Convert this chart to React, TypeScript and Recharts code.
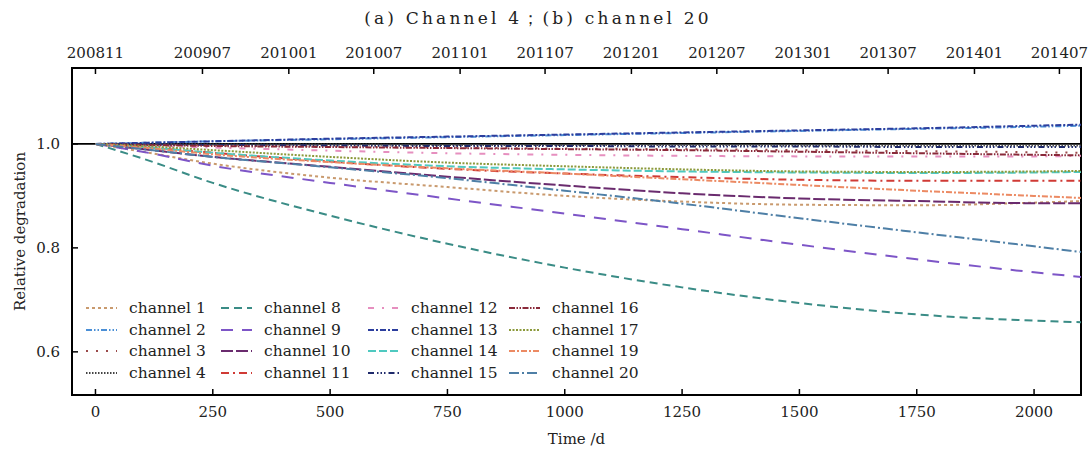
import React from "react";
import { LineChart, Line, XAxis, YAxis, ReferenceLine, ReferenceArea } from "recharts";

// sample days (x) shared by every channel
const days = [0, 100, 250, 500, 750, 1000, 1250, 1500, 1750, 2000, 2100];

const ch1 = [1, 0.985, 0.962, 0.935, 0.917, 0.9, 0.889, 0.883, 0.882, 0.887, 0.89];
const ch2 = [1, 1.002, 1.005, 1.009, 1.013, 1.017, 1.021, 1.025, 1.029, 1.033, 1.035];
const ch3 = [1, 0.999, 0.997, 0.995, 0.993, 0.991, 0.99, 0.988, 0.986, 0.984, 0.983];
const ch4 = [1, 1, 0.999, 0.999, 0.998, 0.998, 0.998, 0.997, 0.997, 0.997, 0.997];
const ch8 = [1, 0.972, 0.925, 0.862, 0.808, 0.762, 0.724, 0.694, 0.672, 0.66, 0.657];
const ch9 = [1, 0.985, 0.958, 0.925, 0.895, 0.866, 0.836, 0.806, 0.778, 0.753, 0.744];
const ch10 = [1, 0.99, 0.975, 0.956, 0.937, 0.92, 0.905, 0.895, 0.89, 0.886, 0.886];
const ch11 = [1, 0.994, 0.983, 0.966, 0.952, 0.943, 0.936, 0.931, 0.929, 0.929, 0.929];
const ch12 = [1, 0.997, 0.993, 0.987, 0.982, 0.979, 0.977, 0.976, 0.976, 0.976, 0.977];
const ch13 = [1, 1.002, 1.005, 1.01, 1.014, 1.018, 1.022, 1.026, 1.03, 1.035, 1.037];
const ch14 = [1, 0.994, 0.983, 0.968, 0.957, 0.951, 0.947, 0.945, 0.944, 0.945, 0.946];
const ch15 = [1, 0.999, 0.998, 0.997, 0.996, 0.996, 0.995, 0.995, 0.994, 0.994, 0.994];
const ch16 = [1, 0.998, 0.996, 0.994, 0.992, 0.99, 0.988, 0.985, 0.982, 0.979, 0.978];
const ch17 = [1, 0.996, 0.988, 0.975, 0.964, 0.957, 0.951, 0.947, 0.946, 0.947, 0.948];
const ch19 = [1, 0.993, 0.98, 0.965, 0.953, 0.943, 0.932, 0.921, 0.91, 0.9, 0.896];
const ch20 = [1, 0.99, 0.975, 0.955, 0.934, 0.91, 0.885, 0.857, 0.83, 0.803, 0.792];

const bottomTicks = [0, 250, 500, 750, 1000, 1250, 1500, 1750, 2000];
const topTicks = [0, 228, 412, 593, 777, 958, 1142, 1324, 1508, 1689, 1873, 2054];
const topLabels = [
  "200811", "200907", "201001", "201007", "201101", "201107",
  "201201", "201207", "201301", "201307", "201401", "201407",
];
const yTicks = [0.6, 0.8, 1.0];

const X_MIN = -50;
const X_MAX = 2100;
const Y_MIN = 0.517;
const Y_MAX = 1.146;

const series = [
  { key: "ch1", name: "channel 1", values: ch1, color: "#c99a6e", dash: "3 3" },
  { key: "ch2", name: "channel 2", values: ch2, color: "#4b8fd6", dash: "6 2 1.5 2 1.5 2" },
  { key: "ch3", name: "channel 3", values: ch3, color: "#9b4a4a", dash: "2 8" },
  { key: "ch4", name: "channel 4", values: ch4, color: "#444444", dash: "1.5 1.5" },
  { key: "ch8", name: "channel 8", values: ch8, color: "#3a8c86", dash: "8 5" },
  { key: "ch9", name: "channel 9", values: ch9, color: "#7d55c7", dash: "12 9" },
  { key: "ch10", name: "channel 10", values: ch10, color: "#6a2b6e", dash: "12 3" },
  { key: "ch11", name: "channel 11", values: ch11, color: "#d03a35", dash: "8 4 2 4" },
  { key: "ch12", name: "channel 12", values: ch12, color: "#e68fbf", dash: "6 8 2 8" },
  { key: "ch13", name: "channel 13", values: ch13, color: "#2c3e9e", dash: "6 2 2 2" },
  { key: "ch14", name: "channel 14", values: ch14, color: "#4fc9c0", dash: "8 3" },
  { key: "ch15", name: "channel 15", values: ch15, color: "#1f2a6b", dash: "6 3 1.5 2 1.5 2 1.5 3" },
  { key: "ch16", name: "channel 16", values: ch16, color: "#8a2a3a", dash: "6 1.5 1.5 1.5 1.5 1.5" },
  { key: "ch17", name: "channel 17", values: ch17, color: "#8c9a3c", dash: "2 1.5" },
  { key: "ch19", name: "channel 19", values: ch19, color: "#ec8a63", dash: "6 2 2 2" },
  { key: "ch20", name: "channel 20", values: ch20, color: "#4e7fa6", dash: "10 3 2 3" },
];

const data = days.map((d, i) => {
  const row: Record<string, number> = { day: d };
  series.forEach((s) => {
    row[s.key] = s.values[i];
  });
  return row;
});

const FONT = "'DejaVu Serif', serif";
const tickStyle = { fontFamily: FONT, fontSize: 15, fill: "#222" };

// legend columns, 4 entries each
const legendCols = [
  { left: 86, items: series.slice(0, 4) },
  { left: 221, items: series.slice(4, 8) },
  { left: 368, items: series.slice(8, 12) },
  { left: 509, items: series.slice(12, 16) },
];

const LegendBox = () => (
  <>
    {legendCols.map((col, ci) => (
      <div key={ci} style={{ position: "absolute", left: col.left, top: 297 }}>
        {col.items.map((s) => (
          <div key={s.key} style={{ display: "flex", alignItems: "center", height: 21.7 }}>
            <svg width={31} height={10} style={{ marginRight: 12 }}>
              <line
                x1={0}
                y1={5}
                x2={31}
                y2={5}
                stroke={s.color}
                strokeWidth={2}
                strokeDasharray={s.dash}
              />
            </svg>
            <span
              style={{
                fontFamily: FONT,
                fontSize: 15.5,
                color: "#222",
                whiteSpace: "nowrap",
              }}
            >
              {s.name}
            </span>
          </div>
        ))}
      </div>
    ))}
  </>
);

const App = () => {
  return (
    <div
      style={{
        position: "absolute",
        left: 0,
        top: 0,
        width: 1090,
        height: 450,
        background: "#fff",
      }}
    >
      <div
        style={{
          position: "absolute",
          left: 0,
          top: 7,
          width: 1076,
          textAlign: "center",
          fontFamily: FONT,
          fontSize: 17,
          letterSpacing: 3.2,
          color: "#222",
          whiteSpace: "nowrap",
        }}
      >
        (a) Channel 4；(b) channel 20
      </div>
      <LineChart
        width={1090}
        height={450}
        data={data}
        margin={{ top: 0, right: 9, left: 12, bottom: 0 }}
      >
        <XAxis
          xAxisId="bottom"
          dataKey="day"
          type="number"
          domain={[X_MIN, X_MAX]}
          ticks={bottomTicks}
          interval={0}
          height={55}
          axisLine={false}
          tickSize={-6}
          tickMargin={17}
          tickLine={{ stroke: "#000", strokeWidth: 1.5 }}
          tick={tickStyle}
          label={{
            value: "Time /d",
            position: "insideBottom",
            offset: 6,
            style: { fontFamily: FONT, fontSize: 15, fill: "#222" },
          }}
        />
        <XAxis
          xAxisId="top"
          orientation="top"
          dataKey="day"
          type="number"
          domain={[X_MIN, X_MAX]}
          ticks={topTicks}
          interval={0}
          height={68}
          axisLine={false}
          tickSize={-6}
          tickMargin={16}
          tickLine={{ stroke: "#000", strokeWidth: 1.5 }}
          tick={tickStyle}
          tickFormatter={(v: number) => topLabels[topTicks.indexOf(v)] ?? ""}
        />
        <YAxis
          type="number"
          domain={[Y_MIN, Y_MAX]}
          ticks={yTicks}
          interval={0}
          width={60}
          axisLine={false}
          tickSize={-6}
          tickMargin={18}
          tickLine={{ stroke: "#000", strokeWidth: 1.5 }}
          tick={tickStyle}
          tickFormatter={(v: number) => v.toFixed(1)}
          label={{
            value: "Relative degradation",
            angle: -90,
            position: "insideLeft",
            offset: 0,
            dx: 8,
            style: { fontFamily: FONT, fontSize: 15, fill: "#222", textAnchor: "middle" },
          }}
        />
        <ReferenceLine xAxisId="bottom" y={1} stroke="#000" strokeWidth={1.8} />
        {series.map((s) => (
          <Line
            key={s.key}
            xAxisId="bottom"
            type="monotone"
            dataKey={s.key}
            name={s.name}
            stroke={s.color}
            strokeWidth={2}
            strokeDasharray={s.dash}
            dot={false}
            activeDot={false}
            isAnimationActive={false}
          />
        ))}
        <ReferenceArea
          xAxisId="bottom"
          x1={X_MIN}
          x2={X_MAX}
          y1={Y_MIN}
          y2={Y_MAX}
          fill="none"
          fillOpacity={0}
          stroke="#000"
          strokeWidth={2}
        />
      </LineChart>
      <LegendBox />
    </div>
  );
};

export default App;
